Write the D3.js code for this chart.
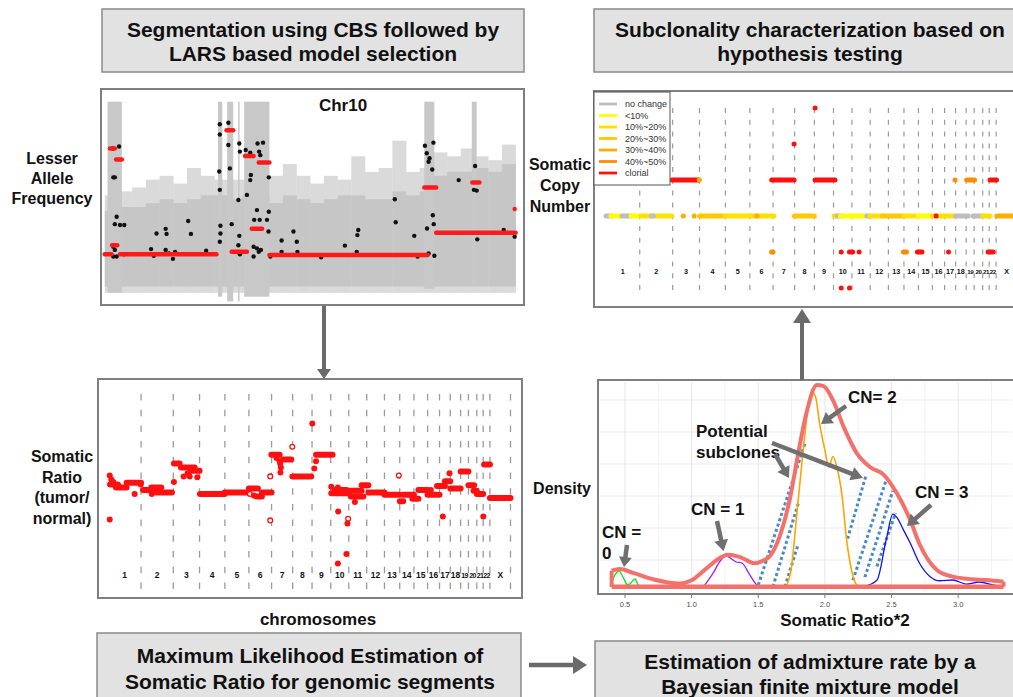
<!DOCTYPE html>
<html><head><meta charset="utf-8">
<script src="https://cdn.jsdelivr.net/npm/d3@7"></script>
<style>
body{margin:0;background:#fff}
svg{display:block}
text{font-family:"Liberation Sans",Arial,Helvetica,sans-serif}
</style>
</head><body>
<svg id="c" width="1013" height="697"></svg>
<script>
// ---------------- DATA ----------------
const headerTL = ["Segmentation using CBS followed by", "LARS based model selection"];
const headerTR = ["Subclonality characterization based on", "hypothesis testing"];
const footerBL = ["Maximum Likelihood Estimation of", "Somatic Ratio for genomic segments"];
const footerBR = ["Estimation of admixture rate by a", "Bayesian finite mixture model"];

// Panel 1: lesser allele frequency on chr10 (position in Mb)
const lafBinStart = [0,4.5,9,13.5,18,22.5,27,31.5,36,40.5,45,49.5,54,58.5,63,67.5,72,76.5,81,85.5,90,94.5,99,103.5,108,112.5,117,121.5,126,130.5];
const lafBinWidth = 4.5;
const lafDenseLo = 0.026, lafSparseLo = 0.01;
const lafDenseHi  = [0.22,0.23,0.23,0.24,0.25,0.24,0.25,0.26,0.26,0.25,0.26,0.26,0.24,0.26,0.25,0.24,0.25,0.26,0.26,0.25,0.25,0.27,0.26,0.27,0.31,0.32,0.32,0.33,0.32,0.34];
const lafSparseHi = [0.26,0.27,0.28,0.30,0.31,0.29,0.33,0.31,0.30,0.30,0.30,0.30,0.31,0.34,0.31,0.29,0.31,0.30,0.36,0.32,0.33,0.40,0.32,0.33,0.37,0.36,0.38,0.36,0.35,0.39];
const lafColStart = [0.9, 37.2, 40.2, 43.8, 45.8, 105.0, 120.6];
const lafColEnd   = [5.6, 38.6, 42.2, 44.3, 54.1, 108.3, 122.2];
const lafColLo    = [0.01, 0.0, -0.012, -0.012, 0.0, 0.02, 0.03];
const lafColHi    = [0.5, 0.5, 0.5, 0.5, 0.5, 0.5, 0.5];
const lafDotMb  = [2.6,4.7,3.3,2.8,3.9,3.3,5.0,6.4,2.8,3.3,2.8,3.9,6.3,15.2,16.1,17.0,20.0,20.3,20.0,21.1,22.4,23.1,27.4,28.3,33.3,37.8,37.8,37.6,37.8,38.0,38.0,37.8,40.6,40.6,41.1,41.7,44.2,44.4,43.9,44.2,43.9,44.4,46.3,47.8,50.2,52.0,50.7,51.1,48.0,47.8,46.7,50.0,49.1,50.9,53.3,53.9,53.8,48.9,50.0,50.6,48.9,51.3,53.9,54.4,58.1,58.1,62.0,63.3,63.1,71.1,78.9,83.0,83.3,82.8,95.3,95.6,101.7,102.8,105.2,105.8,108.0,106.7,106.4,107.6,107.8,108.1,105.9,106.4,108.3,116.3,121.7,121.3,122.2,122.4,131.1,134.7];
const lafDotLaf = [0.380,0.385,0.306,0.306,0.205,0.186,0.184,0.184,0.128,0.120,0.103,0.103,0.109,0.122,0.105,0.162,0.174,0.161,0.120,0.111,0.097,0.115,0.194,0.161,0.118,0.442,0.416,0.321,0.274,0.182,0.162,0.141,0.446,0.389,0.329,0.186,0.393,0.372,0.248,0.156,0.132,0.109,0.376,0.369,0.393,0.395,0.372,0.363,0.312,0.299,0.261,0.222,0.197,0.197,0.197,0.218,0.167,0.128,0.124,0.115,0.103,0.120,0.306,0.103,0.144,0.115,0.167,0.115,0.141,0.101,0.131,0.158,0.171,0.115,0.250,0.191,0.156,0.103,0.387,0.368,0.395,0.355,0.346,0.326,0.209,0.186,0.175,0.111,0.105,0.299,0.335,0.274,0.272,0.147,0.171,0.154];
const lafSegStart = [0, 5.0, 1.7, 3.7, 2.4, 40.0, 41.7, 46.1, 50.6, 48.3, 54.1, 105.0, 108.9, 122.2, 120.8, 134.7];
const lafSegEnd   = [2.2, 36.7, 3.3, 5.6, 4.1, 42.2, 46.7, 48.9, 54.1, 51.7, 106.1, 108.9, 121.7, 135.0, 123.1, 134.7];
const lafSegLaf   = [0.109,0.109,0.380,0.352,0.132,0.427,0.115,0.361,0.344,0.174,0.107,0.280,0.164,0.164,0.293,0.225];

// Genome layout
const chromNames = ["1","2","3","4","5","6","7","8","9","10","11","12","13","14","15","16","17","18","19","20","21","22","X"];
const chromLenMb = [249,243,198,191,181,171,159,146,141,136,135,134,115,107,103,90,81,78,59,63,48,51,155];

// Panel 2: somatic ratio segments (genome Mb)
const srSegStart = [15,60,140,264,326,364,497,550,620,693,879,1062,1120,1160,1231,1319,1390,1568,1683,1710,1824,1830,1912,1963,2084,2200,2225,2294,2340,2409,2480,2540,2580,2658,2717,2755,2780,2835,2879];
const srSegEnd   = [75,140,249,364,402,482,540,653,690,879,1055,1130,1160,1233,1294,1381,1532,1693,1815,1800,1912,1925,1963,2084,2199,2225,2306,2340,2409,2499,2540,2580,2658,2717,2760,2780,2828,2879,3034];
const srSegRatio = [1.12,1.08,1.14,1.05,1.08,1.02,1.38,1.33,1.29,1.0,1.02,1.07,0.97,1.02,1.49,1.43,1.22,1.49,1.01,1.05,1.04,0.97,1.11,1.02,0.99,0.91,0.99,0.94,1.05,0.99,1.10,1.16,1.07,1.28,1.11,1.04,1.0,1.37,0.95];
const srPtMb    = [13,13,25,40,201,246,330,497,570,616,673,600,1070,1100,1223,1223,1294,1298,1303,1300,1270,1389,1540,1555,1568,1683,1733,1735,1810,1805,1797,1733,1861,2192,2434,2524,2574,2829];
const srPtRatio = [1.23,0.68,1.18,1.15,1.0,1.12,1.0,1.15,1.22,1.22,1.21,1.26,1.0,0.98,0.67,1.22,1.41,1.38,1.33,1.27,1.45,1.59,1.88,1.32,1.41,1.09,1.08,0.78,0.69,0.63,0.25,0.13,0.9,1.23,1.05,0.72,1.26,0.72];
const srPtOpen  = [0,0,0,0,0,0,0,0,0,0,0,0,1,0,1,1,0,0,0,0,0,1,0,0,0,0,0,0,1,0,0,0,0,1,0,0,0,0];

// Panel 3: somatic copy number with subclonality class
const cnClasses = ["no change","<10%","10%~20%","20%~30%","30%~40%","40%~50%","clorial"];
const cnColors  = ["#bebebe","#ffff00","#ffe100","#ffc800","#ffad00","#ff8c00","#ff1010"];
const cnSegStart = [0,37,118,185,258,335,571,650,690,881,1062,1110,1222,487,688,1223,1388,1390,1543,1543,1683,1705,1730,1736,1797,1736,1797,1815,1925,1868,1950,2040,2195,2199,2298,2306,2409,2436,2499,2528,2576,2580,2662,2708,2782,2834,2820,2885];
const cnSegEnd   = [37,111,185,244,487,350,571,650,878,1062,1240,1115,1232,686,688,1388,1388,1538,1543,1690,1705,1730,1815,1736,1820,1736,1797,1925,1950,1868,2040,2195,2218,2306,2332,2409,2499,2436,2576,2528,2576,2672,2720,2782,2834,2882,2857,3034];
const cnSegCN    = [2,2,2,2,2,2,2,2,2,2,2,2,1,3,3,3,4,2,5,3,2,2,2,1,1,0,0,2,2,1,2,2,1,2,1,2,2,2,2,1,3,2,3,2,2,3,1,2];
const cnSegClass = [0,1,0,1,2,0,4,4,3,2,2,4,5,6,4,6,6,3,6,6,2,0,1,6,6,6,6,1,0,6,2,3,5,2,6,1,2,6,2,6,5,0,5,0,2,6,6,4];

// Panel 4: density of somatic ratio*2 and mixture components
const densRedX = [0.40,0.46,0.56,0.71,0.91,1.00,1.11,1.20,1.27,1.36,1.47,1.53,1.59,1.66,1.74,1.80,1.86,1.94,1.99,2.06,2.14,2.24,2.34,2.44,2.54,2.64,2.71,2.84,2.96,3.10,3.21,3.34];
const densRedY = [0.15,0.165,0.13,0.07,0.03,0.06,0.17,0.26,0.30,0.28,0.22,0.24,0.29,0.47,0.84,1.25,1.62,1.89,1.88,1.75,1.50,1.25,1.12,1.05,0.875,0.625,0.40,0.157,0.094,0.07,0.063,0.047];
const densOrangeX = [1.71,1.75,1.79,1.84,1.875,1.90,1.93,1.96,2.00,2.03,2.06,2.09,2.13,2.16,2.20,2.24,2.27];
const densOrangeY = [0,0.19,0.69,1.31,1.69,1.83,1.78,1.53,1.28,1.12,1.22,1.12,0.84,0.47,0.156,0.016,0];
const densPurpleX = [1.09,1.16,1.22,1.26,1.30,1.33,1.38,1.43,1.49,1.52];
const densPurpleY = [0,0.125,0.25,0.29,0.26,0.234,0.22,0.125,0.016,0];
const densGreenX = [0.39,0.425,0.455,0.49,0.52,0.54,0.575,0.60,0.62];
const densGreenY = [0,0.11,0.147,0.078,0.016,0.03,0.072,0.016,0];
const densBlueX = [2.29,2.39,2.46,2.51,2.54,2.59,2.64,2.71,2.79,2.86,2.96,3.06,3.16,3.26,3.34];
const densBlueY = [0,0.06,0.44,0.68,0.65,0.53,0.41,0.22,0.094,0.056,0.063,0.025,0.044,0.016,0];
const hatchX1 = [1.50,1.61,1.70,2.17,2.21,2.30,2.39];
const hatchY1 = [0.016,0.0,0.0,0.45,0.06,0.09,0.19];
const hatchX2 = [1.85,1.80,1.80,2.31,2.46,2.51,2.53];
const hatchY2 = [1.34,0.78,0.40,1.05,1.0,0.9,0.69];
const densTicks = [0.5,1.0,1.5,2.0,2.5,3.0];
const densMinorX = [0.75,1.25,1.75,2.25,2.75,3.25];
const densGridY = [0.25,0.55,0.85,1.15,1.45,1.75];

// ---------------- DRAW ----------------
const svg = d3.select("#c");
const GRAY_ARROW = "#6f6f6f";

function arrow(x1,y1,x2,y2,w,hl,hw,col){
  const dx=x2-x1, dy=y2-y1, L=Math.hypot(dx,dy), ux=dx/L, uy=dy/L;
  const bx=x2-ux*hl, by=y2-uy*hl;
  svg.append("line").attr("x1",x1).attr("y1",y1).attr("x2",bx+ux*1).attr("y2",by+uy*1)
    .attr("stroke",col).attr("stroke-width",w);
  svg.append("polygon").attr("fill",col)
    .attr("points",[[x2,y2],[bx-uy*hw/2,by+ux*hw/2],[bx+uy*hw/2,by-ux*hw/2]].map(p=>p.join(",")).join(" "));
}
function box(x,y,w,h){
  svg.append("rect").attr("x",x).attr("y",y).attr("width",w).attr("height",h)
    .attr("fill","#e2e2e2").attr("stroke","#8a8a8a").attr("stroke-width",1.5);
}
function lines(txts,cx,ys,size){
  txts.forEach((t,i)=>svg.append("text").attr("x",cx).attr("y",ys[i]).attr("text-anchor","middle")
    .attr("font-size",size).attr("font-weight","bold").attr("fill","#111").text(t));
}
function panel(x,y,w,h){
  svg.append("rect").attr("x",x).attr("y",y).attr("width",w).attr("height",h)
    .attr("fill","#fff").attr("stroke","#7f7f7f").attr("stroke-width",2);
}

// header/footer boxes
box(102,9,422,63); lines(headerTL,313,[36.5,60.5],21);
box(594,9,430,63); lines(headerTR,810,[36.5,60.5],21);
box(97,633,424,70); lines(footerBL,310,[662.5,688.5],21);
box(595,641,430,62); lines(footerBR,810,[668.5,693.5],21);

// ---- Panel 1: LAF ----
panel(101,89,423,216);
const x1s = d3.scaleLinear().domain([0,135]).range([104.8,515.6]);
const y1s = d3.scaleLinear().domain([0,0.5]).range([296.7,101.7]);
const g1 = svg.append("g");
g1.selectAll("rect.sp").data(lafBinStart).join("rect")
  .attr("x",d=>x1s(d)).attr("width",d=>x1s(d+lafBinWidth)-x1s(d)+0.3)
  .attr("y",(d,i)=>y1s(lafSparseHi[i])).attr("height",(d,i)=>y1s(lafSparseLo)-y1s(lafSparseHi[i]))
  .attr("fill","#dadada");
g1.selectAll("rect.dn").data(lafBinStart).join("rect")
  .attr("x",d=>x1s(d)).attr("width",d=>x1s(d+lafBinWidth)-x1s(d)+0.3)
  .attr("y",(d,i)=>y1s(lafDenseHi[i])).attr("height",(d,i)=>y1s(lafDenseLo)-y1s(lafDenseHi[i]))
  .attr("fill","#c6c6c6");
g1.selectAll("rect.col").data(lafColStart).join("rect")
  .attr("x",d=>x1s(d)).attr("width",(d,i)=>x1s(lafColEnd[i])-x1s(d))
  .attr("y",(d,i)=>y1s(lafColHi[i])).attr("height",(d,i)=>y1s(lafColLo[i])-y1s(lafColHi[i]))
  .attr("fill","#c8c8c8");
g1.selectAll("circle").data(lafDotMb).join("circle")
  .attr("cx",d=>x1s(d)).attr("cy",(d,i)=>y1s(lafDotLaf[i])).attr("r",2.2).attr("fill","#111");
g1.selectAll("line").data(lafSegStart).join("line")
  .attr("x1",d=>x1s(d)).attr("x2",(d,i)=>x1s(lafSegEnd[i]))
  .attr("y1",(d,i)=>y1s(lafSegLaf[i])).attr("y2",(d,i)=>y1s(lafSegLaf[i]))
  .attr("stroke","#ff1a1a").attr("stroke-width",4.5).attr("stroke-linecap","round");
svg.append("text").attr("x",343).attr("y",111).attr("text-anchor","middle").attr("font-size",17)
  .attr("font-weight","bold").attr("fill","#111").text("Chr10");
lines(["Lesser","Allele","Frequency"],52,[164,184,204],16);

// genome positions
const chromEnd = d3.cumsum(chromLenMb);
const chromMid = chromLenMb.map((l,i)=>chromEnd[i]-l/2);
const genomeTotal = chromEnd[chromEnd.length-1];

// ---- Panel 2: somatic ratio ----
panel(98,379,424,219);
const x2s = d3.scaleLinear().domain([0,genomeTotal]).range([108,510.5]);
const y2s = d3.scaleLinear().domain([0,2.2]).range([574,398]);
const g2 = svg.append("g");
g2.selectAll("line.ch").data(Array.from(chromEnd)).join("line")
  .attr("x1",d=>x2s(d)).attr("x2",d=>x2s(d)).attr("y1",394).attr("y2",592)
  .attr("stroke","#9a9a9a").attr("stroke-width",1.3).attr("stroke-dasharray","6.5,9.2");
g2.selectAll("text").data(chromNames).join("text")
  .attr("x",(d,i)=>x2s(chromMid[i])).attr("y",577.5).attr("text-anchor","middle")
  .attr("font-size",(d,i)=>chromLenMb[i]<70?7:8.5).attr("font-weight","bold").attr("fill","#111")
  .attr("letter-spacing",(d,i)=>chromLenMb[i]<70?-0.6:0).text(d=>d);
g2.selectAll("line.sg").data(srSegStart).join("line")
  .attr("x1",d=>x2s(d)).attr("x2",(d,i)=>x2s(srSegEnd[i]))
  .attr("y1",(d,i)=>y2s(srSegRatio[i])).attr("y2",(d,i)=>y2s(srSegRatio[i]))
  .attr("stroke","#ff1010").attr("stroke-width",6).attr("stroke-linecap","round");
g2.selectAll("circle").data(srPtMb).join("circle")
  .attr("cx",d=>x2s(d)).attr("cy",(d,i)=>y2s(srPtRatio[i])).attr("r",(d,i)=>srPtOpen[i]?2.4:3)
  .attr("fill",(d,i)=>srPtOpen[i]?"#fff":"#ff1010").attr("stroke","#ff1010").attr("stroke-width",(d,i)=>srPtOpen[i]?1.3:0);
lines(["Somatic","Ratio","(tumor/","normal)"],62,[462,482.5,503,523.5],16);
svg.append("text").attr("x",318).attr("y",624.5).attr("text-anchor","middle").attr("font-size",17)
  .attr("font-weight","bold").attr("fill","#111").text("chromosomes");

// ---- Panel 3: copy number ----
panel(594,91,430,216);
const x3s = d3.scaleLinear().domain([0,genomeTotal]).range([606,606+genomeTotal*0.1355]);
const y3s = d3.scaleLinear().domain([0,5]).range([288,108]);
const g3 = svg.append("g");
g3.selectAll("line.ch").data(Array.from(chromEnd)).join("line")
  .attr("x1",d=>x3s(d)).attr("x2",d=>x3s(d)).attr("y1",108).attr("y2",296)
  .attr("stroke","#9a9a9a").attr("stroke-width",1.2).attr("stroke-dasharray","5,6.8");
g3.selectAll("text").data(chromNames).join("text")
  .attr("x",(d,i)=>x3s(chromMid[i])).attr("y",274).attr("text-anchor","middle")
  .attr("font-size",(d,i)=>chromLenMb[i]<70?6.2:7.2).attr("font-weight","bold").attr("fill","#111")
  .attr("letter-spacing",(d,i)=>chromLenMb[i]<70?-0.5:0).text(d=>d);
g3.selectAll("line.sg").data(cnSegStart).join("line")
  .attr("x1",d=>x3s(d)).attr("x2",(d,i)=>x3s(cnSegEnd[i]))
  .attr("y1",(d,i)=>y3s(cnSegCN[i])).attr("y2",(d,i)=>y3s(cnSegCN[i]))
  .attr("stroke",(d,i)=>cnColors[cnSegClass[i]]).attr("stroke-width",5).attr("stroke-linecap","round");
// legend
const lg = svg.append("g");
lg.append("rect").attr("x",594).attr("y",92).attr("width",76).attr("height",93)
  .attr("fill","#fff").attr("stroke","#555").attr("stroke-width",1);
cnClasses.forEach((c,i)=>{
  const yy = 104 + i*11.5;
  lg.append("line").attr("x1",599).attr("x2",617).attr("y1",yy).attr("y2",yy)
    .attr("stroke",cnColors[i]).attr("stroke-width",2.8);
  lg.append("text").attr("x",625).attr("y",yy+3).attr("font-size",9).attr("fill","#333").text(c);
});
lines(["Somatic","Copy","Number"],560,[170,191,212],16);

// ---- Panel 4: density ----
panel(598,380,430,214);
const x4s = d3.scaleLinear().domain([0.3,3.4]).range([598.3,1011.5]);
const y4s = d3.scaleLinear().domain([0,2]).range([586.7,373.3]);
const g4 = svg.append("g");
g4.selectAll("line.gy").data(densGridY).join("line")
  .attr("x1",600).attr("x2",1012).attr("y1",d=>y4s(d)).attr("y2",d=>y4s(d))
  .attr("stroke","#ececec").attr("stroke-width",1);
g4.selectAll("line.gm").data(densMinorX).join("line")
  .attr("x1",d=>x4s(d)).attr("x2",d=>x4s(d)).attr("y1",382).attr("y2",592)
  .attr("stroke","#f1f1f1").attr("stroke-width",1);
g4.selectAll("line.gx").data(densTicks).join("line")
  .attr("x1",d=>x4s(d)).attr("x2",d=>x4s(d)).attr("y1",382).attr("y2",592)
  .attr("stroke","#e6e6e6").attr("stroke-width",1);
g4.selectAll("line.tk").data(densTicks).join("line")
  .attr("x1",d=>x4s(d)).attr("x2",d=>x4s(d)).attr("y1",594).attr("y2",598)
  .attr("stroke","#777").attr("stroke-width",1);
g4.selectAll("text.tk").data(densTicks).join("text")
  .attr("x",d=>x4s(d)).attr("y",607).attr("text-anchor","middle").attr("font-size",7.5)
  .attr("fill","#4d4d4d").text(d=>d.toFixed(1));
const ln = d3.line().curve(d3.curveMonotoneX);
function curve(xs,ys,col,w){
  g4.append("path").attr("d",ln(xs.map((x,i)=>[x4s(x),y4s(ys[i])])))
    .attr("fill","none").attr("stroke",col).attr("stroke-width",w).attr("stroke-linejoin","round");
}
// hatching
g4.selectAll("line.hz").data(hatchX1).join("line")
  .attr("x1",d=>x4s(d)).attr("y1",(d,i)=>y4s(hatchY1[i]))
  .attr("x2",(d,i)=>x4s(hatchX2[i])).attr("y2",(d,i)=>y4s(hatchY2[i]))
  .attr("stroke","#4a88c6").attr("stroke-width",3).attr("stroke-dasharray","3,2.6");
curve(densGreenX,densGreenY,"#22dd22",1.4);
curve(densPurpleX,densPurpleY,"#a020f0",1.3);
curve(densOrangeX,densOrangeY,"#ffa500",1.6);
curve(densBlueX,densBlueY,"#1010ff",1.3);
// red overall density (outline + baseline)
g4.append("line").attr("x1",x4s(densRedX[0])).attr("x2",x4s(densRedX[densRedX.length-1]))
  .attr("y1",y4s(0)).attr("y2",y4s(0)).attr("stroke","#f4716b").attr("stroke-width",4.5);
g4.append("line").attr("x1",x4s(densRedX[0])).attr("x2",x4s(densRedX[0]))
  .attr("y1",y4s(0)).attr("y2",y4s(densRedY[0])).attr("stroke","#f4716b").attr("stroke-width",4);
g4.append("line").attr("x1",x4s(densRedX[densRedX.length-1])).attr("x2",x4s(densRedX[densRedX.length-1]))
  .attr("y1",y4s(0)).attr("y2",y4s(densRedY[densRedY.length-1])).attr("stroke","#f4716b").attr("stroke-width",4);
curve(densRedX,densRedY,"#f4716b",4);

// annotations
function label(t,x,y,size,anchor){
  svg.append("text").attr("x",x).attr("y",y).attr("font-size",size).attr("font-weight","bold")
    .attr("text-anchor",anchor||"start").attr("fill","#111").text(t);
}
label("CN =",602,538,17); label("0",602,559,17);
label("CN = 1",691,515,17);
label("CN= 2",848,403,17);
label("Potential",696,437,17); label("subclones",696,457.5,17);
label("CN = 3",915,498,17);
arrow(627,545,624,567,4.5,10,13,GRAY_ARROW);
arrow(717,521,723.5,551,4.5,11,14,GRAY_ARROW);
arrow(846,406,821,424,4.5,11,14,GRAY_ARROW);
arrow(775,454,789,478,4.5,11,14,GRAY_ARROW);
arrow(772,443,863,478,4.5,12,14,GRAY_ARROW);
arrow(931,505,907,526,4.5,11,14,GRAY_ARROW);
lines(["Density"],562,[494],16);
svg.append("text").attr("x",845).attr("y",626).attr("text-anchor","middle").attr("font-size",17)
  .attr("font-weight","bold").attr("fill","#111").text("Somatic Ratio*2");

// flow arrows
arrow(324,306,324,379,4,10,14,"#6a6a6a");
arrow(802,380,802,309,4,14,18,"#6a6a6a");
arrow(529,665,587,665,4.5,14,18,"#6a6a6a");
</script>
</body></html>
